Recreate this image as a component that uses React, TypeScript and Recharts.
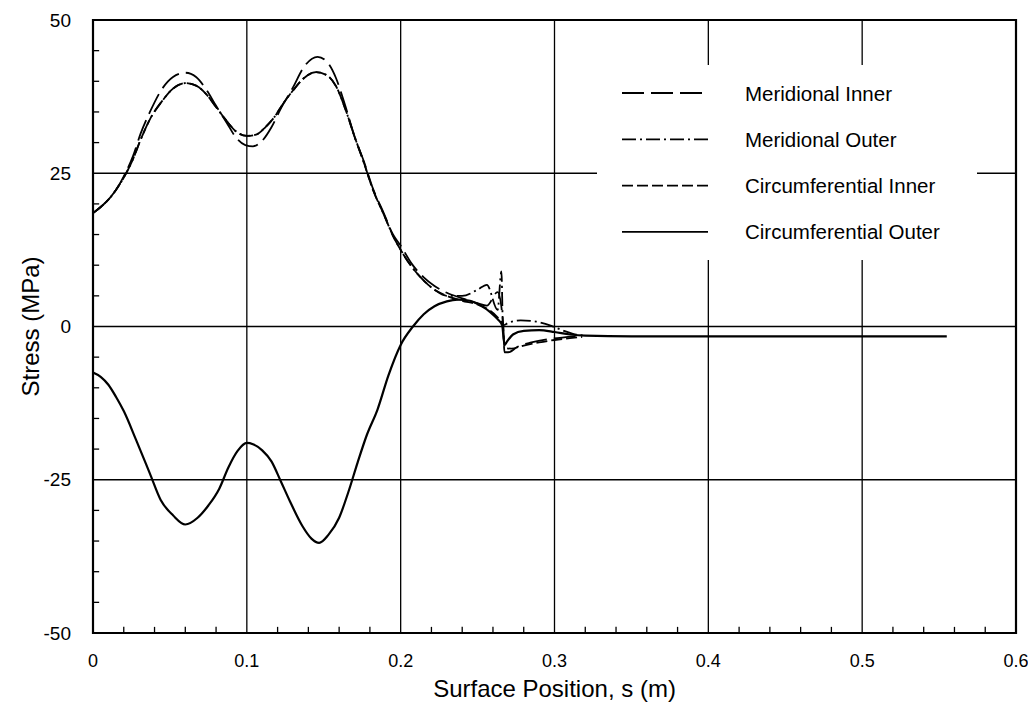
import React from 'react';
import { LineChart, Line, XAxis, YAxis, ReferenceLine, ReferenceArea, Legend } from 'recharts';

// ---------- tick / grid values ----------
const xTicks = [0, 0.1, 0.2, 0.3, 0.4, 0.5, 0.6];
const yTicks = [-50, -25, 0, 25, 50];
const xGrid = [0.1, 0.2, 0.3, 0.4, 0.5];
const yGrid = [-25, 0, 25];
const xMinor = [0.02, 0.04, 0.06, 0.08, 0.12, 0.14, 0.16, 0.18, 0.22, 0.24, 0.26, 0.28, 0.32, 0.34, 0.36, 0.38, 0.42, 0.44, 0.46, 0.48, 0.52, 0.54, 0.56, 0.58];
const yMinor = [-45, -40, -35, -30, -20, -15, -10, -5, 5, 10, 15, 20, 30, 35, 40, 45];

// ---------- series: Meridional Inner ----------
const miS = [0, 0.005, 0.01, 0.015, 0.02, 0.026, 0.031, 0.037, 0.045, 0.052, 0.06, 0.067, 0.074, 0.08, 0.087, 0.093, 0.099, 0.104, 0.11, 0.116, 0.122, 0.13, 0.137, 0.146, 0.152, 0.158, 0.164, 0.17, 0.176, 0.182, 0.189, 0.195, 0.2, 0.207, 0.215, 0.222, 0.23, 0.24, 0.25, 0.256, 0.263, 0.2665, 0.2675, 0.27, 0.276, 0.285, 0.295, 0.305, 0.315];
const miV = [18.5, 19.5, 20.7, 22.3, 24.5, 27.8, 31.5, 35, 38.8, 40.7, 41.4, 40.7, 38.5, 36, 33.2, 30.8, 29.6, 29.4, 30.3, 32.5, 35.5, 39, 42.3, 44, 43.2, 40.5, 36, 31, 27, 22.5, 18.5, 15, 13.2, 10.3, 8.0, 6.6, 5.5, 4.6, 3.8, 3.4, 5.6, 0.8, -4.2, -4.2, -3.3, -2.6, -2.1, -1.8, -1.6];

// ---------- series: Meridional Outer ----------
const moS = [0, 0.005, 0.01, 0.015, 0.02, 0.026, 0.031, 0.037, 0.045, 0.052, 0.06, 0.067, 0.074, 0.08, 0.087, 0.093, 0.1, 0.106, 0.112, 0.118, 0.124, 0.13, 0.137, 0.145, 0.152, 0.158, 0.164, 0.17, 0.176, 0.182, 0.189, 0.195, 0.2, 0.207, 0.215, 0.222, 0.23, 0.24, 0.25, 0.256, 0.263, 0.2655, 0.2665, 0.27, 0.278, 0.288, 0.298, 0.305, 0.312, 0.32];
const moV = [18.5, 19.5, 20.7, 22.3, 24.3, 27.3, 30.5, 33.8, 36.8, 38.8, 39.7, 39.3, 37.8, 35.8, 33.5, 31.8, 31.1, 31.3, 32.5, 34.2, 36.5, 38.5, 40.5, 41.5, 41.0, 39.2, 35.5, 31, 26.8, 22.3, 18.3, 14.8, 12.5, 9.8, 7.5, 6.0, 5.0, 5.0, 6.0, 6.8, 2.7, 9, 0.2, 0.6, 1.0, 0.8, 0.1, -0.6, -1.2, -1.5];

// ---------- series: Circumferential Inner ----------
const ciS = [0, 0.005, 0.01, 0.015, 0.02, 0.026, 0.031, 0.037, 0.045, 0.052, 0.06, 0.067, 0.074, 0.08, 0.087, 0.093, 0.1, 0.106, 0.112, 0.118, 0.124, 0.13, 0.137, 0.145, 0.152, 0.158, 0.164, 0.17, 0.176, 0.182, 0.189, 0.195, 0.2, 0.207, 0.215, 0.222, 0.23, 0.24, 0.25, 0.258, 0.263, 0.2665, 0.2675, 0.272, 0.28, 0.29, 0.3, 0.31, 0.318];
const ciV = [18.5, 19.5, 20.7, 22.3, 24.3, 27.3, 30.5, 33.8, 36.8, 38.8, 39.7, 39.3, 37.8, 35.8, 33.5, 31.8, 31.1, 31.3, 32.5, 34.2, 36.5, 38.5, 40.5, 41.5, 41.0, 39.2, 35.5, 31, 26.8, 22.3, 18.3, 14.8, 12.5, 9.8, 7.5, 6.0, 5.0, 4.2, 3.6, 2.6, 1.5, 0.3, -3.5, -3.6, -3.1, -2.6, -2.2, -1.9, -1.7];

// ---------- series: Circumferential Outer ----------
const coS = [0, 0.005, 0.01, 0.015, 0.02, 0.028, 0.037, 0.044, 0.052, 0.06, 0.068, 0.075, 0.082, 0.088, 0.094, 0.1, 0.104, 0.11, 0.116, 0.122, 0.128, 0.136, 0.142, 0.147, 0.153, 0.16, 0.166, 0.172, 0.178, 0.185, 0.192, 0.2, 0.208, 0.215, 0.222, 0.23, 0.237, 0.245, 0.252, 0.258, 0.263, 0.266, 0.2675, 0.269, 0.273, 0.28, 0.29, 0.3, 0.31, 0.32, 0.35, 0.4, 0.45, 0.5, 0.555];
const coV = [-7.5, -8.2, -9.5, -11.5, -13.8, -18.5, -24, -28.3, -30.8, -32.3, -31.2, -29.2, -26.5, -23, -20.3, -19, -19.2, -20.2, -22, -25.2, -28.5, -32.5, -34.6, -35.3, -34, -31.2, -27, -22.2, -17.7, -13.5, -8, -3, 0, 2, 3.3, 4.1, 4.4, 4.2, 3.4, 2.4, 1.2, 0.2, -3, -2.5, -1.3, -0.7, -0.6, -0.9, -1.3, -1.5, -1.6, -1.6, -1.6, -1.6, -1.6];

const seriesNames = ['Meridional Inner', 'Meridional Outer', 'Circumferential Inner', 'Circumferential Outer'];

const zip = (s: number[], v: number[]) => s.map((x, i) => ({ s: x, v: v[i] }));
const seriesData = [zip(miS, miV), zip(moS, moV), zip(ciS, ciV), zip(coS, coV)];

const seriesStyle = [
  { dash: '22 7', width: 1.8 },
  { dash: '14 4 2 4', width: 1.8 },
  { dash: '11 4', width: 1.8 },
  { dash: undefined as string | undefined, width: 2.2 },
];

const FONT = '"Liberation Sans", Arial, Helvetica, sans-serif';

const LegendBox = () => (
  <div style={{ width: 380, height: 195, background: '#fff' }}>
    <svg width={380} height={195}>
      {seriesNames.map((name, i) => {
        const y = 28 + i * 46.3;
        return (
          <g key={name}>
            <line x1={25} x2={111} y1={y} y2={y} stroke="#000" strokeWidth={1.8} strokeDasharray={seriesStyle[i].dash} />
            <text x={148} y={y} dominantBaseline="central" fontSize={20.5} fontFamily={FONT} fill="#000">{name}</text>
          </g>
        );
      })}
    </svg>
  </div>
);

const YTitle = (props: any) => {
  const vb = props.viewBox || { x: 10, y: 12, width: 75, height: 613 };
  const cx = 22;
  const cy = vb.y + vb.height / 2;
  return (
    <text x={cx} y={cy} transform={`rotate(-90 ${cx} ${cy})`} textAnchor="middle" dominantBaseline="central" fontSize={24} fontFamily={FONT} fill="#000">
      Stress (MPa)
    </text>
  );
};

const XTitle = (props: any) => {
  const vb = props.viewBox || { x: 85, y: 625, width: 923, height: 70 };
  const cx = vb.x + vb.width / 2;
  return (
    <text x={cx} y={680} textAnchor="middle" dominantBaseline="central" fontSize={24} fontFamily={FONT} fill="#000">
      Surface Position, s (m)
    </text>
  );
};

export default function App() {
  return (
    <LineChart width={1020} height={695} margin={{ top: 12, right: 12, left: 10, bottom: 0 }}>
      <XAxis
        dataKey="s"
        type="number"
        domain={[0, 0.6]}
        ticks={xTicks}
        allowDataOverflow
        axisLine={false}
        tickLine={false}
        tickSize={0}
        tickMargin={21}
        height={70}
        tick={{ fontSize: 18, fontFamily: FONT, fill: '#000' }}
        tickFormatter={(v: number) => String(v)}
        label={<XTitle />}
      />
      <YAxis
        type="number"
        domain={[-50, 50]}
        ticks={yTicks}
        allowDataOverflow
        axisLine={false}
        tickLine={false}
        tickSize={0}
        tickMargin={22}
        width={75}
        tick={{ fontSize: 19, fontFamily: FONT, fill: '#000' }}
        label={<YTitle />}
      />
      {xGrid.map((v) => (
        <ReferenceLine key={'xg' + v} x={v} stroke="#000" strokeWidth={1.3} />
      ))}
      {yGrid.map((v) => (
        <ReferenceLine key={'yg' + v} y={v} stroke="#000" strokeWidth={1.3} />
      ))}
      {xMinor.map((v) => (
        <ReferenceLine key={'xm' + v} segment={[{ x: v, y: -50 }, { x: v, y: -49 }]} stroke="#000" strokeWidth={1.3} />
      ))}
      {yMinor.map((v) => (
        <ReferenceLine key={'ym' + v} segment={[{ x: 0, y: v }, { x: 0.004, y: v }]} stroke="#000" strokeWidth={1.3} />
      ))}
      <ReferenceArea x1={0} x2={0.6} y1={-50} y2={50} fill="none" fillOpacity={0} stroke="#000" strokeWidth={2.2} />
      {seriesData.map((d, i) => (
        <Line
          key={seriesNames[i]}
          data={d}
          dataKey="v"
          name={seriesNames[i]}
          type="monotone"
          dot={false}
          activeDot={false}
          stroke="#000"
          strokeWidth={seriesStyle[i].width}
          strokeDasharray={seriesStyle[i].dash}
          isAnimationActive={false}
        />
      ))}
      <Legend
        layout="vertical"
        align="center"
        verticalAlign="middle"
        content={<LegendBox />}
        wrapperStyle={{ left: 589, top: 57, width: 380, height: 195, margin: 0, padding: 0 }}
      />
    </LineChart>
  );
}
